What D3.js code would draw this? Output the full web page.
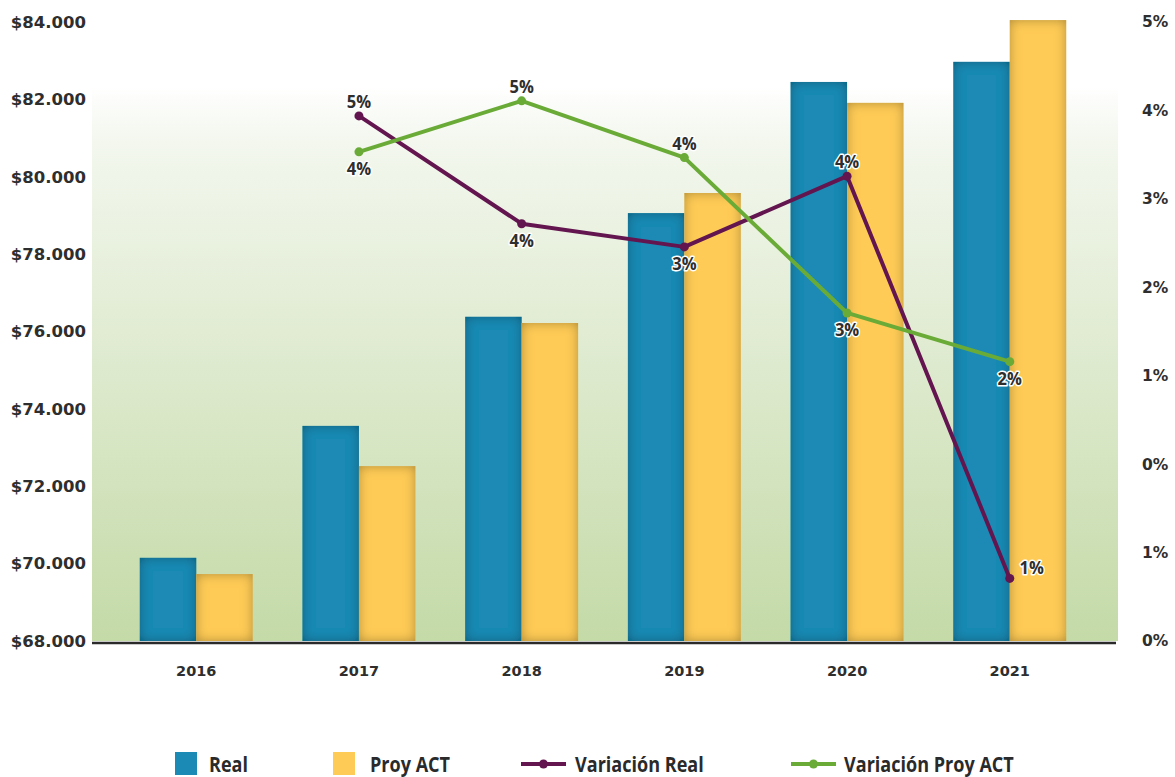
<!DOCTYPE html>
<html>
<head>
<meta charset="utf-8">
<script src="https://cdn.jsdelivr.net/npm/d3@7"></script>
<style>
  html, body { margin: 0; padding: 0; background: #ffffff; }
  svg { display: block; }
</style>
</head>
<body>
<svg id="chart" width="1175" height="777"></svg>
<script>
// ---- data ----
const categories = ["2016", "2017", "2018", "2019", "2020", "2021"];
const realValues = [70150, 73560, 76380, 79060, 82450, 82970];
const proyValues = [69730, 72520, 76220, 79580, 81910, 84050];
const varReal = [null, 0.0453, 0.0360, 0.0340, 0.0401, 0.0054];
const varProy = [null, 0.0422, 0.0466, 0.0417, 0.0283, 0.0241];
const varRealLabelPos = [null, "above", "below", "below", "above", "right"];
const varProyLabelPos = [null, "below", "above", "above", "below", "below"];
const leftTicks = [68000, 70000, 72000, 74000, 76000, 78000, 80000, 82000, 84000];
const rightTickLabels = ["0%", "1%", "0%", "1%", "2%", "3%", "4%", "5%"];
const legendItems = ["Real", "Proy ACT", "Variación Real", "Variación Proy ACT"];

// ---- layout ----
const svg = d3.select("#chart");
const plotLeft = 90, plotRight = 1116, plotTop = 22, plotBottom = 641;
const colReal = "#1b8ab4", colProy = "#fecb57", colVarReal = "#63154f", colVarProy = "#6aab37";

const x = d3.scaleBand().domain(categories).range([plotLeft, plotRight]).padding(0.306);
const xs = d3.scaleBand().domain(["real", "proy"]).range([0, x.bandwidth()]);
const y = d3.scaleLinear().domain([68000, 84000]).range([plotBottom, plotTop]);
const y2 = d3.scaleLinear().domain([0, 0.0534]).range([plotBottom, plotTop]);

const defs = svg.append("defs");
const bg = defs.append("linearGradient").attr("id", "bgGrad").attr("x1", 0).attr("y1", 0).attr("x2", 0).attr("y2", 1);
bg.append("stop").attr("offset", "0%").attr("stop-color", "#ffffff");
bg.append("stop").attr("offset", "10%").attr("stop-color", "#f3f7ee");
bg.append("stop").attr("offset", "100%").attr("stop-color", "#c4daa7");

const f = defs.append("filter").attr("id", "inner")
  .attr("x", "-20%").attr("y", "-20%").attr("width", "140%").attr("height", "140%");
f.append("feFlood").attr("flood-color", "#000").attr("flood-opacity", 0.62).attr("result", "flood");
f.append("feComposite").attr("in", "flood").attr("in2", "SourceAlpha").attr("operator", "out").attr("result", "outside");
f.append("feGaussianBlur").attr("in", "outside").attr("stdDeviation", 6).attr("result", "blur");
f.append("feComposite").attr("in", "blur").attr("in2", "SourceAlpha").attr("operator", "in").attr("result", "shadow");
const fm = f.append("feMerge");
fm.append("feMergeNode").attr("in", "SourceGraphic");
fm.append("feMergeNode").attr("in", "shadow");

// background
const bgTop = 86;
svg.append("rect")
  .attr("x", plotLeft + 2).attr("y", bgTop)
  .attr("width", plotRight - plotLeft).attr("height", plotBottom - bgTop)
  .attr("fill", "url(#bgGrad)");

// bars
const groups = svg.append("g").selectAll("g").data(categories).join("g")
  .attr("transform", d => `translate(${x(d)},0)`);
groups.append("rect")
  .attr("x", xs("real")).attr("width", xs.bandwidth())
  .attr("y", (d, i) => y(realValues[i])).attr("height", (d, i) => plotBottom - y(realValues[i]))
  .attr("fill", colReal).attr("filter", "url(#inner)");
groups.append("rect")
  .attr("x", xs("proy")).attr("width", xs.bandwidth())
  .attr("y", (d, i) => y(proyValues[i])).attr("height", (d, i) => plotBottom - y(proyValues[i]))
  .attr("fill", colProy).attr("filter", "url(#inner)");

// baseline
svg.append("line").attr("x1", plotLeft + 2).attr("x2", plotRight).attr("y1", plotBottom + 2).attr("y2", plotBottom + 2)
  .attr("stroke", "#2a2a2a").attr("stroke-width", 2.5);

// axes
const tickFont = "'DejaVu Sans', Verdana, sans-serif";
const leftAxis = svg.append("g").attr("transform", "translate(86,0)")
  .call(d3.axisLeft(y).tickValues(leftTicks).tickSize(0).tickPadding(0)
    .tickFormat(d => "$" + d3.format(",")(d).replace(/,/g, ".")));
leftAxis.select(".domain").remove();
leftAxis.selectAll("text").attr("font-family", tickFont).attr("font-weight", "bold")
  .attr("font-size", 16.5).attr("fill", "#2e2e2e");

const rightTickVals = rightTickLabels.map((d, i) => i * 0.0534 / (rightTickLabels.length - 1));
const rightAxis = svg.append("g").attr("transform", "translate(1142,0)")
  .call(d3.axisRight(y2).tickValues(rightTickVals).tickSize(0).tickPadding(0)
    .tickFormat((d, i) => rightTickLabels[i]));
rightAxis.select(".domain").remove();
rightAxis.selectAll("text").attr("font-family", tickFont).attr("font-weight", "bold")
  .attr("font-size", 15.5).attr("fill", "#2e2e2e");

const bottomAxis = svg.append("g").attr("transform", `translate(0,${plotBottom + 30})`)
  .call(d3.axisBottom(x).tickSize(0).tickPadding(0));
bottomAxis.select(".domain").remove();
bottomAxis.selectAll("text").attr("font-family", tickFont).attr("font-weight", "bold")
  .attr("font-size", 14.5).attr("fill", "#2e2e2e").attr("dy", "0.32em");

// lines
const cx = d => x(d) + x.bandwidth() / 2;
function drawSeries(vals, color, pos) {
  const pts = categories.map((c, i) => ({ c, v: vals[i], p: pos[i] })).filter(d => d.v != null);
  svg.append("path").datum(pts)
    .attr("d", d3.line().x(d => cx(d.c)).y(d => y2(d.v)))
    .attr("fill", "none").attr("stroke", color).attr("stroke-width", 4).attr("stroke-linejoin", "round");
  svg.append("g").selectAll("circle").data(pts).join("circle")
    .attr("cx", d => cx(d.c)).attr("cy", d => y2(d.v)).attr("r", 4.5).attr("fill", color);
  return pts;
}
const ptsR = drawSeries(varReal, colVarReal, varRealLabelPos);
const ptsP = drawSeries(varProy, colVarProy, varProyLabelPos);

const labelFont = "'Open Sans', 'Noto Sans', sans-serif";
svg.append("g").selectAll("text").data(ptsR.concat(ptsP)).join("text")
  .attr("transform", d => {
    const tx = cx(d.c) + (d.p === "right" ? 22 : 0);
    const ty = y2(d.v) + (d.p === "above" ? -14 : d.p === "below" ? 17 : -11);
    return `translate(${tx},${ty}) scale(0.92,1)`;
  })
  .attr("dy", "0.35em")
  .attr("text-anchor", "middle")
  .attr("font-family", labelFont).attr("font-weight", "bold").attr("font-size", 18)
  .attr("fill", "#2e2e2e").attr("stroke", "#ffffff").attr("stroke-width", 3)
  .attr("paint-order", "stroke").attr("stroke-linejoin", "round")
  .text(d => d3.format(".0%")(d.v));

// legend
const legendFont = "'Open Sans', sans-serif";
const legendX = [175, 333, 521, 791];
const legendTextX = [209, 370, 575, 844];
const lg = svg.append("g");
legendItems.forEach((name, i) => {
  if (i < 2) {
    lg.append("rect").attr("x", legendX[i]).attr("y", 752).attr("width", 22).attr("height", 23)
      .attr("fill", i === 0 ? colReal : colProy);
  } else {
    const c = i === 2 ? colVarReal : colVarProy;
    lg.append("line").attr("x1", legendX[i]).attr("x2", legendX[i] + 45).attr("y1", 764).attr("y2", 764)
      .attr("stroke", c).attr("stroke-width", 4);
    lg.append("circle").attr("cx", legendX[i] + 22.5).attr("cy", 764).attr("r", 4.5).attr("fill", c);
  }
  lg.append("text").attr("transform", `translate(${legendTextX[i]},764) scale(0.84,1)`).attr("dy", "0.35em")
    .attr("font-family", legendFont).attr("font-weight", "bold").attr("font-size", 21.5)
    .attr("fill", "#2a2a2a").text(name);
});
</script>
</body>
</html>
